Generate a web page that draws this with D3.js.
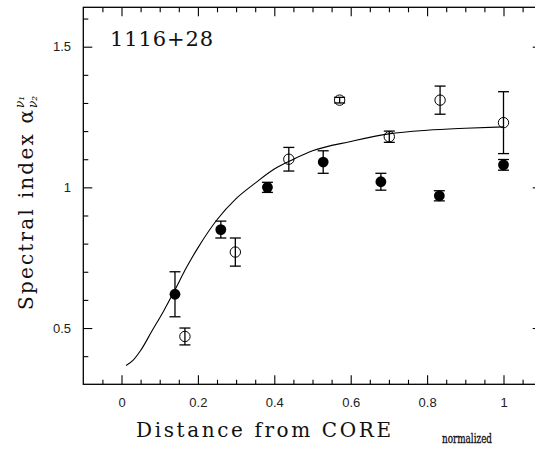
<!DOCTYPE html>
<html>
<head>
<meta charset="utf-8">
<script src="https://cdn.jsdelivr.net/npm/d3@7"></script>
<style>
  body { margin: 0; background: #fff; }
</style>
</head>
<body>
<div class="chart"></div>
<script>
// chart settings
const width = 535;
const height = 449;
const margin = { top: 7.3, right: -6.7, bottom: 64.7, left: 83.3 };

// filled points (one frequency pair)
const filledX = [0.14, 0.26, 0.382, 0.528, 0.679, 0.832, 1.0];
const filledY = [0.62, 0.85, 1.0, 1.09, 1.02, 0.97, 1.08];
const filledErr = [0.08, 0.03, 0.018, 0.04, 0.03, 0.018, 0.019];

// open points
const openX = [0.166, 0.298, 0.438, 0.571, 0.701, 0.834, 1.0];
const openY = [0.47, 0.77, 1.10, 1.31, 1.18, 1.31, 1.23];
const openErr = [0.03, 0.05, 0.042, 0.01, 0.02, 0.05, 0.11];

// model curve
const curveX = [0.012, 0.03, 0.05, 0.08, 0.11, 0.14, 0.17, 0.2, 0.25, 0.3, 0.35, 0.4, 0.45, 0.5, 0.6, 0.7, 0.8, 0.9, 1.0];
const curveY = [0.367, 0.385, 0.42, 0.49, 0.56, 0.636, 0.715, 0.785, 0.885, 0.96, 1.015, 1.065, 1.1, 1.13, 1.163, 1.19, 1.203, 1.21, 1.215];

// ticks
const xMajor = [0, 0.2, 0.4, 0.6, 0.8, 1];
const xMinor = [-0.05, 0.05, 0.1, 0.15, 0.25, 0.3, 0.35, 0.45, 0.5, 0.55, 0.65, 0.7, 0.75, 0.85, 0.9, 0.95, 1.05];
const yMajor = [0.5, 1, 1.5];
const yMinor = [0.4, 0.6, 0.7, 0.8, 0.9, 1.1, 1.2, 1.3, 1.4, 1.6];

const svg = d3.select('.chart')
  .append('svg')
  .attr('width', width)
  .attr('height', height);

const x = d3.scaleLinear()
  .domain([-0.1, 1.1])
  .range([margin.left, width - margin.right]);

const y = d3.scaleLinear()
  .domain([0.3, 1.64])
  .range([height - margin.bottom, margin.top]);

const tickFont = 'font: 13px "Liberation Sans", Arial, sans-serif';

function styleAxis(g) {
  g.select('.domain').remove();
  g.selectAll('line').attr('stroke', '#000').attr('stroke-width', 1.1);
}

// bottom
svg.append('g')
  .attr('transform', `translate(0, ${y.range()[0]})`)
  .call(d3.axisBottom(x).tickValues(xMajor).tickSize(-9).tickPadding(13.5)
    .tickFormat(d => d3.format('')(d)))
  .attr('style', tickFont)
  .call(styleAxis);
svg.append('g')
  .attr('transform', `translate(0, ${y.range()[0]})`)
  .call(d3.axisBottom(x).tickValues(xMinor).tickSize(-4.5).tickFormat(''))
  .call(styleAxis);

// top
svg.append('g')
  .attr('transform', `translate(0, ${y.range()[1]})`)
  .call(d3.axisTop(x).tickValues(xMajor).tickSize(-9).tickFormat(''))
  .call(styleAxis);
svg.append('g')
  .attr('transform', `translate(0, ${y.range()[1]})`)
  .call(d3.axisTop(x).tickValues(xMinor).tickSize(-5).tickFormat(''))
  .call(styleAxis);

// left
svg.append('g')
  .attr('transform', `translate(${x.range()[0]}, 0)`)
  .call(d3.axisLeft(y).tickValues(yMajor).tickSize(-9).tickPadding(12.3)
    .tickFormat(d => d3.format('')(d)))
  .attr('style', tickFont)
  .call(styleAxis);
svg.append('g')
  .attr('transform', `translate(${x.range()[0]}, 0)`)
  .call(d3.axisLeft(y).tickValues(yMinor).tickSize(-5).tickFormat(''))
  .call(styleAxis);

// right
svg.append('g')
  .attr('transform', `translate(${x.range()[1]}, 0)`)
  .call(d3.axisRight(y).tickValues(yMajor).tickSize(-9).tickFormat(''))
  .call(styleAxis);
svg.append('g')
  .attr('transform', `translate(${x.range()[1]}, 0)`)
  .call(d3.axisRight(y).tickValues(yMinor).tickSize(-5).tickFormat(''))
  .call(styleAxis);

svg.selectAll('.tick text').attr('fill', '#222');

// frame
svg.append('rect')
  .attr('x', x.range()[0])
  .attr('y', y.range()[1])
  .attr('width', x.range()[1] - x.range()[0])
  .attr('height', y.range()[0] - y.range()[1])
  .attr('fill', 'none')
  .attr('stroke', '#000')
  .attr('stroke-width', 1.3);

// curve
const curveData = curveX.map((v, i) => [v, curveY[i]]);
svg.append('path')
  .datum(curveData)
  .attr('fill', 'none')
  .attr('stroke', '#000')
  .attr('stroke-width', 1.1)
  .attr('d', d3.line().x(d => x(d[0])).y(d => y(d[1])).curve(d3.curveMonotoneX));

// error bars
function errorBars(xs, ys, errs) {
  const data = xs.map((v, i) => ({ x: v, y: ys[i], e: errs[i] }));
  const g = svg.append('g').attr('stroke', '#000').attr('stroke-width', 1.3);
  g.selectAll('line.v')
    .data(data)
    .join('line')
      .attr('class', 'v')
      .attr('x1', d => x(d.x)).attr('x2', d => x(d.x))
      .attr('y1', d => y(d.y - d.e)).attr('y2', d => y(d.y + d.e));
  g.selectAll('line.top')
    .data(data)
    .join('line')
      .attr('class', 'top')
      .attr('x1', d => x(d.x) - 5.5).attr('x2', d => x(d.x) + 5.5)
      .attr('y1', d => y(d.y + d.e)).attr('y2', d => y(d.y + d.e));
  g.selectAll('line.bot')
    .data(data)
    .join('line')
      .attr('class', 'bot')
      .attr('x1', d => x(d.x) - 5.5).attr('x2', d => x(d.x) + 5.5)
      .attr('y1', d => y(d.y - d.e)).attr('y2', d => y(d.y - d.e));
  return data;
}

const filled = errorBars(filledX, filledY, filledErr);
const open = errorBars(openX, openY, openErr);

svg.append('g')
  .selectAll('circle')
  .data(filled)
  .join('circle')
    .attr('cx', d => x(d.x))
    .attr('cy', d => y(d.y))
    .attr('r', 5.4)
    .attr('fill', '#000');

svg.append('g')
  .selectAll('circle')
  .data(open)
  .join('circle')
    .attr('cx', d => x(d.x))
    .attr('cy', d => y(d.y))
    .attr('r', 5.2)
    .attr('fill', 'none')
    .attr('stroke', '#000')
    .attr('stroke-width', 1);

// labels
const serif = '"DejaVu Serif", serif';

svg.append('text')
  .attr('x', 110)
  .attr('y', 45.7)
  .attr('font-family', serif)
  .attr('font-size', 21)
  .attr('fill', '#111')
  .attr('textLength', 103)
  .attr('lengthAdjust', 'spacing')
  .text('1116+28');

const xlab = svg.append('text')
  .attr('y', 436.7)
  .attr('font-family', serif)
  .attr('fill', '#111');
xlab.append('tspan')
  .attr('x', 136)
  .attr('font-size', 20)
  .attr('textLength', 255)
  .attr('lengthAdjust', 'spacing')
  .text('Distance from CORE');
xlab.append('tspan')
  .attr('x', 442)
  .attr('y', 443.3)
  .attr('font-size', 12.5)
  .attr('stroke', '#111')
  .attr('stroke-width', 0.35)
  .attr('textLength', 50)
  .attr('lengthAdjust', 'spacingAndGlyphs')
  .text('normalized');

const ylab = svg.append('text')
  .attr('transform', 'translate(33, 310) rotate(-90)')
  .attr('font-family', serif)
  .attr('fill', '#111');
ylab.append('tspan')
  .attr('x', 0)
  .attr('font-size', 20)
  .attr('textLength', 200)
  .attr('lengthAdjust', 'spacing')
  .text('Spectral index α');
ylab.append('tspan')
  .attr('x', 202)
  .attr('dy', -9)
  .attr('font-size', 12)
  .attr('font-style', 'italic')
  .text('ν₁');
ylab.append('tspan')
  .attr('x', 202)
  .attr('dy', 13)
  .attr('font-size', 12)
  .attr('font-style', 'italic')
  .text('ν₂');
</script>
</body>
</html>
